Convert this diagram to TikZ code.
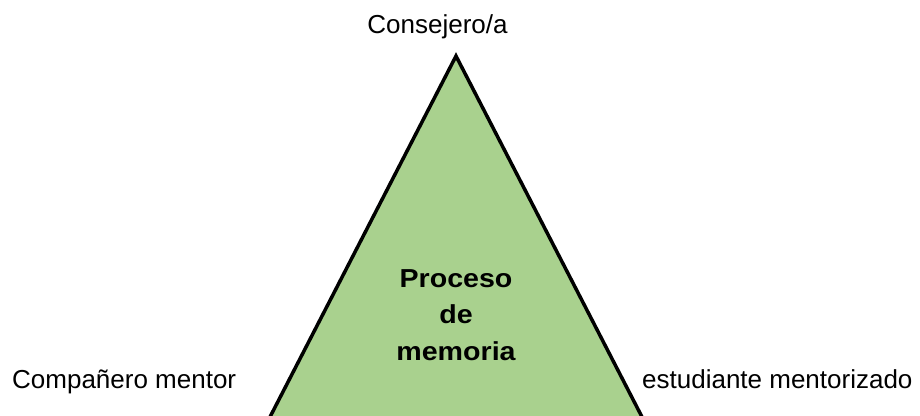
\documentclass[tikz,border=0pt]{standalone}
\usepackage{fontspec}
\setmainfont{Liberation Sans}[BoldFeatures={FakeStretch=1.1}]
\definecolor{trigreen}{HTML}{A9D18E}
\begin{document}
\begin{tikzpicture}[x=1pt,y=-1pt,
  lbl/.style={inner sep=0pt,font=\fontsize{26}{36.5}\selectfont},
  ctr/.style={inner sep=0pt,align=center,font=\fontsize{26}{36.5}\selectfont\bfseries}]
\useasboundingbox (0,0) rectangle (920,415);
\clip (0,0) rectangle (920,415);
\coordinate (apex) at (456,56);
\coordinate (bl) at (456-0.5153*444,500);
\coordinate (br) at (456+0.5153*444,500);
\draw[line width=3.5pt,fill=trigreen,line join=miter] (apex) -- (br) -- (bl) -- cycle;
\node[lbl,anchor=base] (top) at (437.5,33) {Consejero/a};
\node[lbl,anchor=base west] (left) at (12,388) {Compañero mentor};
\node[lbl,anchor=base west] (right) at (642,388) {estudiante mentorizado};
\node[ctr,anchor=base] (mid) at (456,360) {Proceso\\de\\memoria};
\end{tikzpicture}
\end{document}
